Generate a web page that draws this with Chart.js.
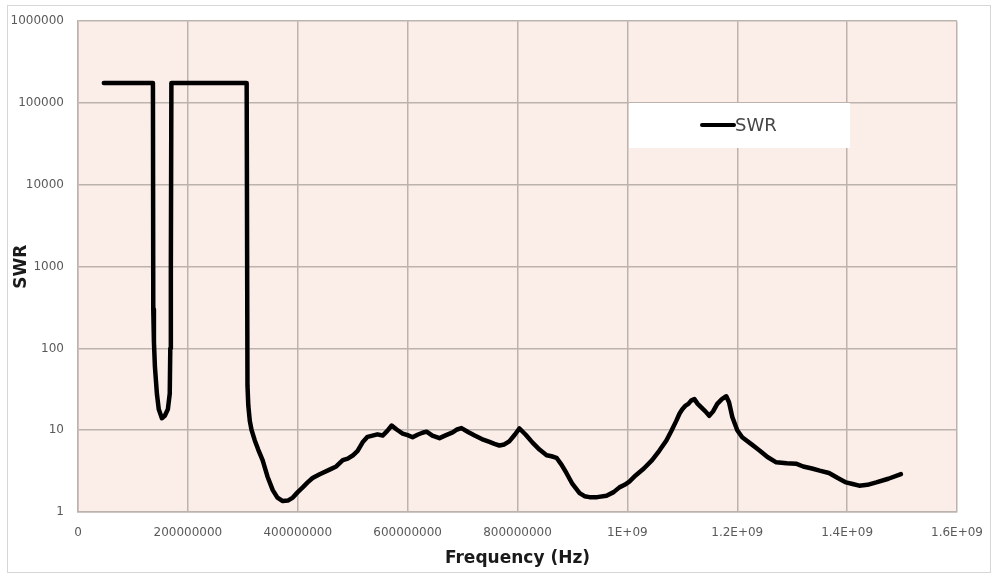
<!DOCTYPE html>
<html>
<head>
<meta charset="utf-8">
<script src="https://cdn.jsdelivr.net/npm/chart.js@4.4.1/dist/chart.umd.min.js"></script>
<style>
  html, body { margin: 0; padding: 0; background: #fff; }
  #wrap { width: 997px; height: 574px; }
</style>
</head>
<body>
<div id="wrap"><canvas id="swrChart" width="997" height="574"></canvas></div>
<script>
const freqMHz = [
  47, 136.4, 137, 138.2, 140, 143.6, 147, 152.7, 158, 163.6, 167, 168, 169, 170,
  307, 308.5, 310, 312.7, 316, 321.8, 328, 336, 345, 354.5, 363, 372.7, 382, 391,
  400, 409, 418, 427, 440, 458, 470, 482, 491, 500, 509, 518, 527, 536, 545, 554.5,
  563, 571, 580, 591, 600, 609, 618, 627, 634.5, 645, 658, 670, 682, 690, 698, 710,
  722, 735, 749, 758, 767, 776, 785, 795, 803.6, 815, 827, 840, 853, 862, 871, 880,
  889, 900, 913, 922, 931, 945, 962, 975, 985.5, 995, 1003.6, 1015, 1030, 1045, 1058,
  1071, 1080, 1089, 1095, 1100, 1106, 1111, 1116, 1122, 1128, 1134.5, 1142, 1149, 1156,
  1163.6, 1172, 1180, 1185, 1191, 1200, 1209, 1225, 1240, 1255, 1271, 1290, 1307, 1320,
  1336, 1350, 1367, 1383, 1398, 1410, 1422, 1437, 1453, 1475, 1498
];
const swrValues = [
  175000, 175000, 300, 120, 60, 28, 18, 14, 15, 18, 28, 100, 1000, 175000,
  175000, 35, 20, 13, 10, 7.5, 5.8, 4.3, 2.7, 1.85, 1.5, 1.36, 1.38, 1.5,
  1.75, 2.0, 2.3, 2.6, 2.9, 3.3, 3.6, 4.3, 4.5, 4.9, 5.6, 7.1, 8.3, 8.6, 8.9, 8.6,
  9.8, 11.4, 10.2, 9.1, 8.7, 8.2, 8.8, 9.3, 9.6, 8.6, 8.0, 8.7, 9.4, 10.2, 10.6, 9.5,
  8.6, 7.8, 7.2, 6.8, 6.5, 6.7, 7.3, 8.8, 10.5, 8.8, 7.1, 5.8, 4.95, 4.8, 4.6, 3.8,
  3.0, 2.2, 1.7, 1.56, 1.52, 1.52, 1.58, 1.75, 2.0, 2.15, 2.35, 2.8, 3.4, 4.3, 5.6,
  7.5, 9.8, 13, 16, 18, 20, 21, 23, 24, 21, 19, 17, 15, 17,
  21, 24, 26, 22, 14.5, 10, 8.2, 6.8, 5.7, 4.7, 4.05, 3.95, 3.9, 3.6,
  3.4, 3.2, 3.0, 2.6, 2.3, 2.2, 2.1, 2.15, 2.3, 2.55, 2.9
];
const xTickValues = [0, 2e8, 4e8, 6e8, 8e8, 1e9, 1.2e9, 1.4e9, 1.6e9];
const xTickLabels = ["0", "200000000", "400000000", "600000000", "800000000", "1E+09", "1.2E+09", "1.4E+09", "1.6E+09"];
const yTickValues = [1, 10, 100, 1000, 10000, 100000, 1000000];

const points = freqMHz.map((f, i) => ({ x: f * 1e6, y: swrValues[i] }));

const FONT = "'DejaVu Sans', Verdana, sans-serif";
const TICK_COLOR = '#5a5a5a';
const GRID_COLOR = '#bdb3ae';

// plot background + outer frame
const backdrop = {
  id: 'backdrop',
  beforeDraw(chart) {
    const { ctx, chartArea: a } = chart;
    ctx.save();
    ctx.fillStyle = '#ffffff';
    ctx.fillRect(0, 0, chart.width, chart.height);
    ctx.fillStyle = '#fbede8';
    ctx.fillRect(a.left, a.top, a.right - a.left, a.bottom - a.top);
    ctx.strokeStyle = '#d6d6d6';
    ctx.lineWidth = 1;
    ctx.strokeRect(7.5, 5.5, 983, 567);
    ctx.restore();
  }
};

// white legend box sitting inside the plot area
const boxLegend = {
  id: 'boxLegend',
  afterDatasetsDraw(chart) {
    const { ctx } = chart;
    const ds = chart.data.datasets[0];
    ctx.save();
    ctx.fillStyle = '#ffffff';
    ctx.fillRect(629, 103, 221, 45);
    ctx.strokeStyle = ds.borderColor;
    ctx.lineWidth = 4;
    ctx.lineCap = 'round';
    ctx.beginPath();
    ctx.moveTo(702, 125);
    ctx.lineTo(734, 125);
    ctx.stroke();
    ctx.fillStyle = '#454545';
    ctx.font = "18px " + FONT;
    ctx.textBaseline = 'middle';
    ctx.fillText(ds.label, 735, 126);
    ctx.restore();
  }
};

new Chart(document.getElementById('swrChart'), {
  type: 'line',
  data: {
    datasets: [{
      label: 'SWR',
      data: points,
      borderColor: '#000000',
      borderWidth: 4.5,
      pointRadius: 0,
      tension: 0,
      borderJoinStyle: 'round',
      borderCapStyle: 'round'
    }]
  },
  options: {
    responsive: false,
    animation: false,
    layout: { padding: { left: 0, right: 39, top: 19, bottom: 0 } },
    plugins: {
      legend: { display: false },
      tooltip: { enabled: false }
    },
    scales: {
      x: {
        type: 'linear',
        min: 0,
        max: 1.6e9,
        afterFit(scale) { scale.height = 62; },
        afterBuildTicks(scale) { scale.ticks = xTickValues.map(v => ({ value: v })); },
        ticks: {
          padding: 14,
          color: TICK_COLOR,
          font: { family: FONT, size: 12 },
          maxRotation: 0,
          autoSkip: false,
          callback: (v) => xTickLabels[xTickValues.indexOf(v)]
        },
        grid: { color: GRID_COLOR, lineWidth: 1.5, drawTicks: false },
        border: { color: GRID_COLOR, width: 1.5 },
        title: {
          display: true,
          text: 'Frequency (Hz)',
          color: '#1a1a1a',
          font: { family: FONT, size: 17, weight: 'bold' },
          padding: { top: 2, bottom: 5 }
        }
      },
      y: {
        type: 'logarithmic',
        min: 1,
        max: 1000000,
        afterFit(scale) { scale.width = 78; },
        afterBuildTicks(scale) { scale.ticks = yTickValues.map(v => ({ value: v })); },
        ticks: {
          padding: 14,
          color: TICK_COLOR,
          font: { family: FONT, size: 12 },
          callback: (v) => String(v)
        },
        grid: { color: GRID_COLOR, lineWidth: 1.5, drawTicks: false },
        border: { color: GRID_COLOR, width: 1.5 },
        title: {
          display: true,
          text: 'SWR',
          color: '#1a1a1a',
          font: { family: FONT, size: 17, weight: 'bold' },
          padding: { top: 11, bottom: 0 }
        }
      }
    }
  },
  plugins: [backdrop, boxLegend]
});
</script>
</body>
</html>
